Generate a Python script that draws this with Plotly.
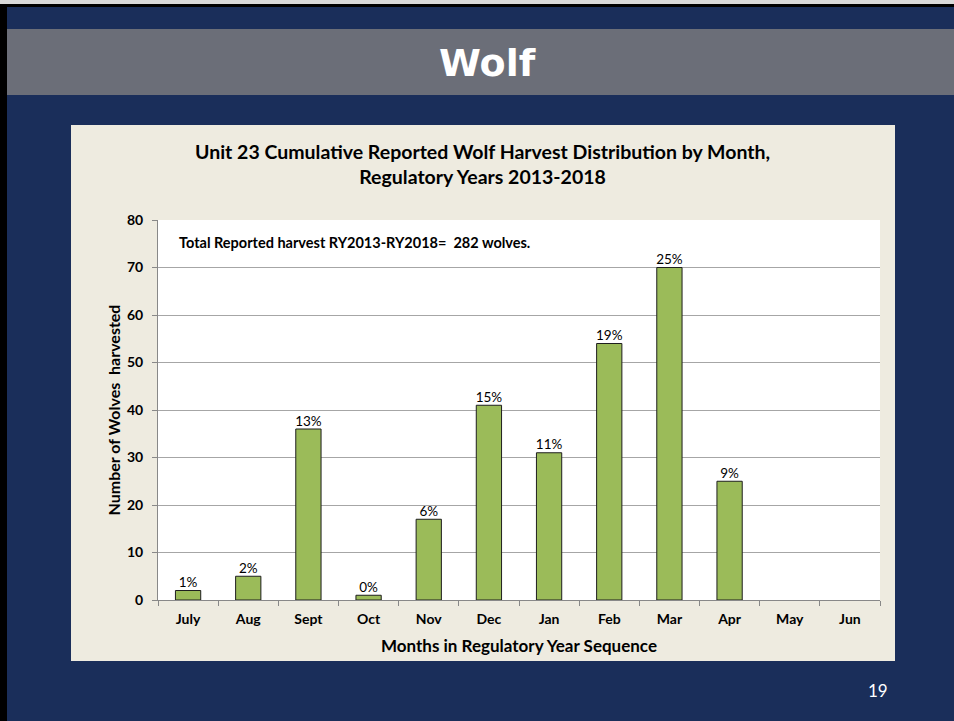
import plotly.graph_objects as go

months = ['July', 'Aug', 'Sept', 'Oct', 'Nov', 'Dec', 'Jan', 'Feb', 'Mar', 'Apr', 'May', 'Jun']
wolves = [2, 5, 36, 1, 17, 41, 31, 54, 70, 25, None, None]
pct_labels = ['1%', '2%', '13%', '0%', '6%', '15%', '11%', '19%', '25%', '9%', '', '']
y_ticks = [0, 10, 20, 30, 40, 50, 60, 70, 80]

W, H = 954, 721
PLOT = dict(l=158, r=880, t=220, b=600)   # plot area in pixels

NAVY = '#1a2e5a'
BAND = '#6b6e78'
PANEL = '#eeebe0'
GREEN = '#9bbb59'
FONT = 'Lato, sans-serif'


def px_x(x):
    return (x - PLOT['l']) / (PLOT['r'] - PLOT['l'])


def px_y(y):
    return (PLOT['b'] - y) / (PLOT['b'] - PLOT['t'])


def rect(x0, y0, x1, y1, color):
    return dict(type='rect', xref='paper', yref='paper', layer='below',
                x0=px_x(x0), x1=px_x(x1), y0=px_y(y1), y1=px_y(y0),
                fillcolor=color, line_width=0)


def label(text, x, y, size, color='#000000', family=FONT, xanchor='center'):
    return dict(text=text, x=px_x(x), y=px_y(y), xref='paper', yref='paper',
                xanchor=xanchor, yanchor='middle', showarrow=False,
                font=dict(family=family, size=size, color=color))


fig = go.Figure()

fig.add_trace(go.Bar(
    x=months, y=wolves,
    width=0.42,
    marker=dict(color=GREEN, line=dict(color='#1e1e1e', width=1)),
    hovertemplate='%{x}: %{y}<extra></extra>'
))

# percentage labels above the bars
fig.add_trace(go.Scatter(
    x=months, y=wolves,
    mode='text',
    text=pct_labels,
    textposition='top center',
    textfont=dict(family=FONT, size=13.5, color='#000000'),
    cliponaxis=False,
    hoverinfo='skip'
))

shapes = [
    rect(0, 0, W, 4, '#d9d9d9'),
    rect(0, 4, W, 7, '#000000'),
    rect(0, 4, 7, H, '#000000'),
    rect(7, 29, W, 95, BAND),
    rect(71, 125, 895, 661, PANEL),
    rect(PLOT['l'], PLOT['t'], PLOT['r'], PLOT['b'], '#ffffff'),
]

annotations = [
    label('<b>Wolf</b>', 487, 63, 38, '#ffffff', 'DejaVu Sans'),
    label('<b>Unit 23 Cumulative Reported Wolf Harvest Distribution by Month,</b><br>'
          '<b>Regulatory Years 2013-2018</b>', 482, 164, 19.5),
    label('<b>Total Reported harvest RY2013-RY2018=  282 wolves.</b>', 177, 242, 14.5,
          xanchor='left'),
    label('19', 878, 690, 17, '#ffffff'),
]

fig.update_layout(
    width=W, height=H,
    margin=dict(l=PLOT['l'], r=W - PLOT['r'], t=PLOT['t'], b=H - PLOT['b'], autoexpand=False),
    paper_bgcolor=NAVY,
    plot_bgcolor='rgba(0,0,0,0)',
    shapes=shapes,
    annotations=annotations,
    showlegend=False,
    xaxis=dict(
        type='category', range=[-0.5, len(months) - 0.5],
        showline=True, linecolor='#888888', linewidth=1,
        ticks='outside', ticklen=5, tickcolor='#888888', tickson='boundaries',
        ticklabelstandoff=6,
        tickfont=dict(family=FONT, size=14, color='#000000', weight='bold'),
        title=dict(text='<b>Months in Regulatory Year Sequence</b>', standoff=14,
                   font=dict(family=FONT, size=17, color='#000000')),
    ),
    yaxis=dict(
        range=[0, 80], tickvals=y_ticks,
        showline=True, linecolor='#888888', linewidth=1,
        ticks='outside', ticklen=5, tickcolor='#888888',
        ticklabelstandoff=6,
        showgrid=True, gridcolor='#a6a6a6', gridwidth=1, zeroline=False,
        tickfont=dict(family=FONT, size=14, color='#000000', weight='bold'),
        title=dict(text='<b>Number of Wolves  harvested</b>', standoff=2,
                   font=dict(family=FONT, size=16, color='#000000')),
    ),
)

fig.write_html('out.html', config={'displayModeBar': False},
               post_script="document.body.style.margin='0';")
